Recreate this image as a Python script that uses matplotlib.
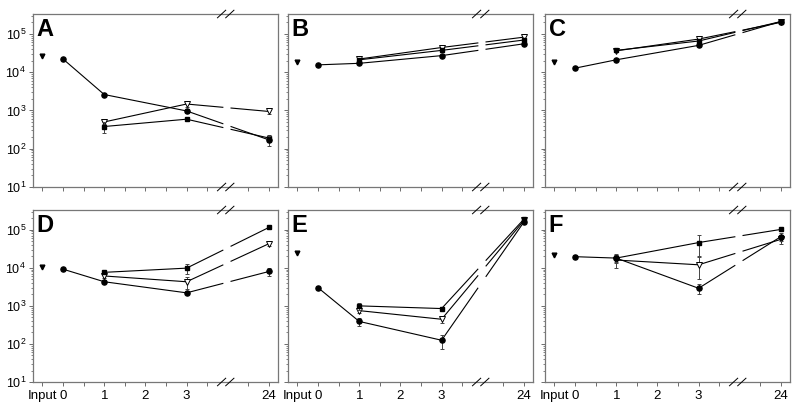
"""Six panels of log-scale time courses (A-F) with a broken time axis."""
import numpy as np
import matplotlib.pyplot as plt

plt.rcParams['font.family'] = ['Liberation Sans', 'DejaVu Sans']
plt.rcParams['mathtext.fontset'] = 'custom'
plt.rcParams['mathtext.rm'] = 'Liberation Sans'

panels = ['A', 'B', 'C', 'D', 'E', 'F']
tick_labels = ['Input', '0', '1', '2', '3', '24']
tick_pos = [-0.5, 0, 1, 2, 3, 5]          # 24 h is drawn after the axis break
circle_pos = [0, 1, 3, 5]
other_pos = [1, 3, 5]
input_pos = -0.5
break_x = 3.95

input_val = [2.6e4, 1.8e4, 1.8e4, 1.07e4, 2.5e4, 2.2e4]

circle_val = [
    [2.2e4, 2.6e3, 970, 170],
    [1.55e4, 1.7e4, 2.7e4, 5.5e4],
    [1.27e4, 2.1e4, 5.0e4, 2.1e5],
    [9.2e3, 4.3e3, 2.2e3, 8.0e3],
    [3.0e3, 390, 125, 1.6e5],
    [1.96e4, 1.8e4, 2.9e3, 6.6e4],
]
circle_err = [
    [0, 200, 100, 50],
    [0, 1000, 1500, 4000],
    [0, 1500, 4000, 1e4],
    [0, 400, 200, 2000],
    [300, 100, 50, 2e4],
    [1500, 4000, 800, 1.5e4],
]
square_val = [
    [380, 590, 190],
    [2.1e4, 3.7e4, 6.9e4],
    [3.7e4, 6.5e4, 2.1e5],
    [7.6e3, 9.8e3, 1.15e5],
    [1.0e3, 850, 1.9e5],
    [1.8e4, 4.6e4, 1.02e5],
]
square_err = [
    [120, 50, 40],
    [1500, 3000, 6000],
    [3000, 5000, 1.5e4],
    [700, 3000, 1e4],
    [200, 80, 3e4],
    [5000, 2.5e4, 1e4],
]
tri_val = [
    [500, 1470, 940],
    [2.2e4, 4.4e4, 8.2e4],
    [3.6e4, 7.3e4, 2.0e5],
    [6.1e3, 4.3e3, 4.3e4],
    [750, 445, 1.75e5],
    [1.6e4, 1.2e4, 5.6e4],
]
tri_err = [
    [50, 250, 150],
    [1500, 4000, 8000],
    [3000, 1.5e4, 1.5e4],
    [600, 1500, 5000],
    [100, 100, 2e4],
    [6000, 7000, 1.5e4],
]


def broken_line(ax, xs, ys, gap=(3.88, 4.08)):
    # connect points, leaving a gap where a segment crosses the axis break
    for x0, x1, y0, y1 in zip(xs[:-1], xs[1:], ys[:-1], ys[1:]):
        if x0 < gap[0] and x1 > gap[1]:
            ly0, ly1 = np.log10(y0), np.log10(y1)
            f = lambda x: 10 ** (ly0 + (ly1 - ly0) * (x - x0) / (x1 - x0))
            ax.plot([x0, gap[0]], [y0, f(gap[0])], color='black', lw=0.8, zorder=2)
            ax.plot([gap[1], x1], [f(gap[1]), y1], color='black', lw=0.8, zorder=2)
        else:
            ax.plot([x0, x1], [y0, y1], color='black', lw=0.8, zorder=2)


fig = plt.figure(figsize=(8, 4.08), dpi=100)
W, H = 800, 408
lefts = [33, 288, 545]
rows = [(14, 187), (210, 382)]

for i, name in enumerate(panels):
    r, c = divmod(i, 3)
    top, bot = rows[r]
    ax = fig.add_axes([lefts[c] / W, 1 - bot / H, 245 / W, (bot - top) / H])
    ax.set_yscale('log')
    ax.set_ylim(10, 3.3e5)
    ax.set_xlim(-0.73, 5.22)

    broken_line(ax, circle_pos, circle_val[i])
    broken_line(ax, other_pos, square_val[i])
    broken_line(ax, other_pos, tri_val[i])

    ax.errorbar(other_pos, tri_val[i], yerr=tri_err[i], fmt='v', ms=4,
                mfc='white', mec='black', mew=0.7, ecolor='#444', elinewidth=0.7,
                capsize=1.5, capthick=0.7, zorder=3)
    ax.errorbar(other_pos, square_val[i], yerr=square_err[i], fmt='s', ms=3.3,
                color='black', ecolor='#444', elinewidth=0.7,
                capsize=1.5, capthick=0.7, zorder=4)
    ax.errorbar(circle_pos, circle_val[i], yerr=circle_err[i], fmt='o', ms=3.7,
                color='black', ecolor='#444', elinewidth=0.7,
                capsize=1.5, capthick=0.7, zorder=5)
    ax.plot([input_pos], [input_val[i]], 'v', color='black', ms=3.4, zorder=5)

    # axis break marks on top and bottom spines
    for yb in (0.0, 1.0):
        for dx in (-0.1, 0.1):
            ax.plot([break_x + dx - 0.1, break_x + dx + 0.1], [yb - 0.022, yb + 0.022],
                    transform=ax.get_xaxis_transform(), color='black', lw=0.7,
                    clip_on=False, zorder=6)

    ax.set_xticks(tick_pos)
    ax.set_xticks([0.5, 1.5, 2.5, 3.5, 4.5], minor=True)
    if r == 1:
        ax.set_xticklabels(tick_labels, fontsize=9.5)
    else:
        ax.set_xticklabels([])
    ax.set_yticks([1e1, 1e2, 1e3, 1e4, 1e5])
    if c != 0:
        ax.set_yticklabels([])
    ax.tick_params(axis='both', which='major', labelsize=9, length=3,
                   width=0.6, color='#555', pad=2)
    ax.tick_params(axis='x', which='major', labelsize=9.5, pad=3)
    ax.tick_params(axis='x', which='minor', length=3, width=0.6, color='#555')
    ax.tick_params(axis='y', which='minor', length=1.5, width=0.5, color='#555')

    for s in ax.spines.values():
        s.set_color('#777')
        s.set_linewidth(0.9)

    ax.text(0.015, 0.975, name, transform=ax.transAxes, ha='left', va='top',
            fontsize=17, fontweight='bold')

fig.savefig('out.png', dpi=100)
